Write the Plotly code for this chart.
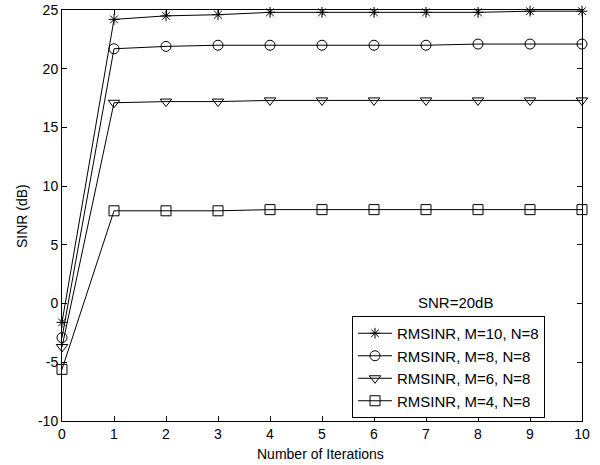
import plotly.graph_objects as go

iterations = [0, 1, 2, 3, 4, 5, 6, 7, 8, 9, 10]
sinr_m10 = [-1.6, 24.2, 24.5, 24.6, 24.8, 24.8, 24.8, 24.8, 24.8, 24.9, 24.9]
sinr_m8 = [-2.9, 21.7, 21.9, 22.0, 22.0, 22.0, 22.0, 22.0, 22.1, 22.1, 22.1]
sinr_m6 = [-3.7, 17.1, 17.2, 17.2, 17.3, 17.3, 17.3, 17.3, 17.3, 17.3, 17.3]
sinr_m4 = [-5.6, 7.9, 7.9, 7.9, 8.0, 8.0, 8.0, 8.0, 8.0, 8.0, 8.0]
names = ["RMSINR, M=10, N=8", "RMSINR, M=8, N=8", "RMSINR, M=6, N=8", "RMSINR, M=4, N=8"]
symbols = ["asterisk-open", "circle-open", "triangle-down-open", "square-open"]
x_ticks = list(range(0, 11))
y_ticks = [-10, -5, 0, 5, 10, 15, 20, 25]
y_ticktext = ["-10", "-5", "0", "5", "10", "15", "20", "25"]

fig = go.Figure()
for ys, name, sym in zip([sinr_m10, sinr_m8, sinr_m6, sinr_m4], names, symbols):
    fig.add_trace(go.Scatter(
        x=iterations, y=ys, name=name, mode="lines+markers",
        line=dict(color="black", width=1),
        marker=dict(symbol=sym, size=10 if sym != "asterisk-open" else 9,
                    color="black", line=dict(color="black", width=1)),
        cliponaxis=False,
    ))

ff = "Liberation Sans, Arial, sans-serif"
font = dict(family=ff, size=14, color="black")
legend_font = dict(family=ff, size=15, color="black")
axis_common = dict(
    showgrid=False, zeroline=False, showline=True, linecolor="black", linewidth=1,
    mirror="ticks", ticks="inside", ticklen=5, tickcolor="black", tickfont=font,
    automargin=False,
)
L, R, T, B = 62, 18, 10, 44
pw = 600 - L - R
ph = 465 - T - B
fig.update_layout(
    width=600, height=465,
    margin=dict(l=L, r=R, t=T, b=B),
    paper_bgcolor="white", plot_bgcolor="white",
    font=font,
    xaxis=dict(range=[0, 10], tickvals=x_ticks, **axis_common),
    yaxis=dict(range=[-10, 25], tickvals=y_ticks, ticktext=y_ticktext, **axis_common),
    legend=dict(x=(352 - L) / pw, y=(465 - B - 316) / ph, xanchor="left", yanchor="top",
                bordercolor="black", borderwidth=1, bgcolor="white",
                font=legend_font, tracegroupgap=0, itemwidth=34, entrywidth=168,
                entrywidthmode="pixels"),
    showlegend=True,
    annotations=[
        dict(text="SNR=20dB", x=(455 - L) / pw, y=(465 - B - 302) / ph, xref="paper", yref="paper",
             showarrow=False, font=legend_font, xanchor="center", yanchor="middle"),
        dict(text="Number of Iterations", x=(320 - L) / pw, y=(465 - B - 454) / ph, xref="paper", yref="paper",
             showarrow=False, font=font, xanchor="center", yanchor="middle"),
        dict(text="SINR (dB)", x=(22 - L) / pw, y=(465 - B - 216) / ph, xref="paper", yref="paper",
             showarrow=False, font=font, xanchor="center", yanchor="middle", textangle=-90),
    ],
)
fig.write_html("out.html")
